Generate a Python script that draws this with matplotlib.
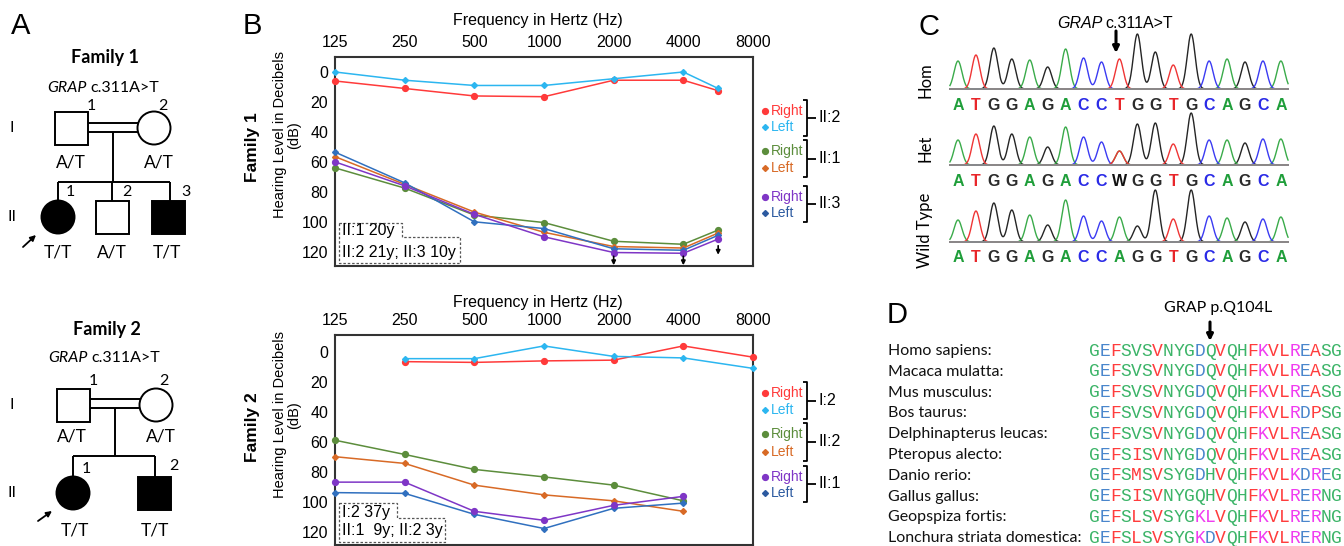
import numpy as np
import matplotlib
matplotlib.use("Agg")
import matplotlib.pyplot as plt
from matplotlib.patches import Rectangle, Circle, Polygon

plt.rcParams["font.family"] = ["Liberation Sans", "DejaVu Sans"]

W_PX, H_PX = 1344, 546

# ---------------------------------------------------------------------------
# B. audiogram data (dB HL)
# ---------------------------------------------------------------------------
FREQ_TICKS = [125, 250, 500, 1000, 2000, 4000, 8000]

F1_FREQS = [125, 250, 500, 1000, 2000, 4000, 6000]
F1_II2_RIGHT = [6, 11, 16, 16.5, 5.5, 5.5, 12.5]
F1_II2_LEFT = [0, 5.5, 9, 9, 4.5, 0, 11]
F1_II1_RIGHT = [64, 77.5, 95.5, 100.5, 113, 115, 105.5]
F1_II1_LEFT = [56.5, 75, 93.5, 107, 116.5, 117.5, 107.5]
F1_II3_RIGHT = [60, 76, 95, 110, 120.5, 121, 111.5]
F1_II3_LEFT = [53.5, 74, 100, 104.5, 118, 119, 109]
F1_NR_FREQS = [2000, 4000, 6000]
F1_NR_LEVELS = [123, 123, 116]

F2_I2_FREQS = [250, 500, 1000, 2000, 4000, 8000]
F2_I2_RIGHT = [6.5, 7, 6, 5.5, -4, 3.5]
F2_I2_LEFT = [4.5, 4.5, -4, 3, 4, 11]
F2_II_FREQS = [125, 250, 500, 1000, 2000, 4000]
F2_II2_RIGHT = [59, 68.5, 78.5, 83.5, 89, 99.5]
F2_II2_LEFT = [70, 74.5, 89, 95.5, 99.5, 106.5]
F2_II1_RIGHT = [87, 87, 106.5, 112.5, 102.5, 96.5]
F2_II1_LEFT = [94, 94.5, 108.5, 118, 104.5, 101]

# ---------------------------------------------------------------------------
# C. chromatograms (peak heights)
# ---------------------------------------------------------------------------
HOM_SEQ = "ATGGAGACCTGGTGCAGCA"
HET_SEQ = "ATGGAGACCWGGTGCAGCA"
WT_SEQ = "ATGGAGACCAGGTGCAGCA"
HOM_HEIGHTS = [28, 34, 41, 30, 29, 22, 40, 31, 27, 30, 55, 37, 24, 55, 28, 30, 27, 28, 28]
HET_HEIGHTS = [25, 31, 39, 31, 28, 18, 38, 28, 23, 14, 41, 42, 21, 52, 25, 25, 22, 26, 26]
WT_HEIGHTS = [22, 31, 39, 32, 27, 17, 42, 26, 21, 25, 16, 52, 23, 52, 26, 24, 20, 23, 25]

# ---------------------------------------------------------------------------
# D. alignment
# ---------------------------------------------------------------------------
SPECIES = ["Homo sapiens:", "Macaca mulatta:", "Mus musculus:", "Bos taurus:",
           "Delphinapterus leucas:", "Pteropus alecto:", "Danio rerio:",
           "Gallus gallus:", "Geopspiza fortis:", "Lonchura striata domestica:"]
SEQUENCES = ["GEFSVSVNYGDQVQHFKVLREASG", "GEFSVSVNYGDQVQHFKVLREASG",
             "GEFSVSVNYGDQVQHFKVLREASG", "GEFSVSVNYGDQVQHFKVLRDPSG",
             "GEFSVSVNYGDQVQHFKVLREASG", "GEFSISVNYGDQVQHFKVLREASG",
             "GEFSMSVSYGDHVQHFKVLKDREG", "GEFSISVNYGQHVQHFKVLRERNG",
             "GEFSLSVSYGKLVQHFKVLRERNG", "GEFSLSVSYGKDVQHFKVLRERNG"]
SEQ_COLOURS = ["gbrgggrgggbgrggrmrrmbrgg", "gbrgggrgggbgrggrmrrmbrgg",
               "gbrgggrgggbgrggrmrrmbrgg", "gbrgggrgggbgrggrmrrmbrgg",
               "gbrgggrgggbgrggrmrrmbrgg", "gbrgrgrgggbgrggrmrrmbrgg",
               "gbrgrgrgggbgrggrmrrmbmbg", "gbrgrgrgggggrggrmrrmbmgg",
               "gbrgrgrgggmmrggrmrrmbmgg", "gbrgrgrgggmbrggrmrrmbmgg"]

RED = "#ff3a3a"
SKY = "#2cb6f0"
GREEN = "#5c8d3c"
ORANGE = "#d86a26"
PURPLE = "#7f36c6"
NAVY = "#3070bf"
FRAME = "#333333"

fig = plt.figure(figsize=(W_PX / 100, H_PX / 100), dpi=100)


def px_axes(x0, y0, x1, y1):
    return fig.add_axes([x0 / W_PX, 1 - y1 / H_PX, (x1 - x0) / W_PX, (y1 - y0) / H_PX])


def freq_to_pos(f):
    return np.interp(f, FREQ_TICKS, np.arange(len(FREQ_TICKS)))


def pos_to_freq(p):
    return np.interp(p, np.arange(len(FREQ_TICKS)), FREQ_TICKS)


def audiogram(ax, series, ylim):
    ax.set_xscale("function", functions=(freq_to_pos, pos_to_freq))
    ax.set_xlim(125, 8000)
    ax.set_ylim(*ylim)
    for freqs, vals, color, marker in series:
        ms = 4.2 if marker == "o" else 3.0
        ax.plot(freqs, vals, color=color, lw=1.1, marker=marker, ms=ms,
                clip_on=False, zorder=3)
    ax.set_xticks(FREQ_TICKS)
    ax.set_xticklabels([str(f) for f in FREQ_TICKS])
    ax.xaxis.set_minor_locator(matplotlib.ticker.NullLocator())
    ax.xaxis.tick_top()
    ax.set_yticks(range(0, 121, 20))
    ax.tick_params(length=0, labelsize=11.5, pad=5)
    for sp in ax.spines.values():
        sp.set_linewidth(1.5)
        sp.set_color(FRAME)


ax_f1 = px_axes(335, 57, 753, 266)
audiogram(ax_f1, [
    (F1_FREQS, F1_II2_RIGHT, RED, "o"), (F1_FREQS, F1_II2_LEFT, SKY, "D"),
    (F1_FREQS, F1_II1_RIGHT, GREEN, "o"), (F1_FREQS, F1_II1_LEFT, ORANGE, "D"),
    (F1_FREQS, F1_II3_LEFT, NAVY, "D"), (F1_FREQS, F1_II3_RIGHT, PURPLE, "o"),
], (129.5, -10))
for f, lv in zip(F1_NR_FREQS, F1_NR_LEVELS):
    ax_f1.annotate("", xy=(f, lv + 6), xytext=(f, lv),
                   arrowprops=dict(arrowstyle="-|>", color="black", lw=1.2,
                                   mutation_scale=6, shrinkA=0, shrinkB=0))

ax_f2 = px_axes(335, 335, 753, 545)
audiogram(ax_f2, [
    (F2_I2_FREQS, F2_I2_RIGHT, RED, "o"), (F2_I2_FREQS, F2_I2_LEFT, SKY, "D"),
    (F2_II_FREQS, F2_II2_RIGHT, GREEN, "o"), (F2_II_FREQS, F2_II2_LEFT, ORANGE, "D"),
    (F2_II_FREQS, F2_II1_LEFT, NAVY, "D"), (F2_II_FREQS, F2_II1_RIGHT, PURPLE, "o"),
], (129, -11.3))

# ---------------------------------------------------------------------------
# C. chromatogram rows
# ---------------------------------------------------------------------------
CHANNEL = {"A": "#3aab4a", "C": "#3b3bf2", "G": "#252525", "T": "#ef3535"}
LETTER = {"A": "#1f9e3a", "C": "#2a2ae6", "G": "#2b2b2b", "T": "#e8262a", "W": "#111111"}
IUPAC = {"W": "AT"}
SIGMA = 0.22


def chromatogram(baseline_px, seq, heights):
    ax = px_axes(946, baseline_px - 56, 1292, baseline_px + 2)
    ax.set_xlim(-0.669, 18.62)
    ax.set_ylim(-2, 56)
    ax.axis("off")
    x = np.linspace(-0.45, 18.4, 900)
    for ch in "GACT":
        y = np.zeros_like(x)
        for i, (b, h) in enumerate(zip(seq, heights)):
            if ch in IUPAC.get(b, b):
                y += h * np.exp(-0.5 * ((x - i) / SIGMA) ** 2)
        ax.plot(x, y, color=CHANNEL[ch], lw=1.0, clip_on=False)
    ax.plot([x[0], x[-1]], [0, 0], color="#8a8a8a", lw=1.4, clip_on=False)
    for i, b in enumerate(seq):
        ax.text(i, -16, b, ha="center", va="center", fontsize=11.5,
                fontweight="bold", color=LETTER[b], clip_on=False)


chromatogram(89, HOM_SEQ, HOM_HEIGHTS)
chromatogram(165, HET_SEQ, HET_HEIGHTS)
chromatogram(242, WT_SEQ, WT_HEIGHTS)

# ---------------------------------------------------------------------------
# D. alignment
# ---------------------------------------------------------------------------
AA = {"g": "#3cb468", "b": "#4a86cc", "r": "#ff3c3c", "m": "#f03cf0"}
ax_d = px_axes(1089, 340.6, 1342, 548.6)
ax_d.set_xlim(0, 24)
ax_d.set_ylim(9.5, -0.5)
ax_d.axis("off")
for row, (name, seq, cols) in enumerate(zip(SPECIES, SEQUENCES, SEQ_COLOURS)):
    ax_d.text(-19.07, row, name, ha="left", va="center", fontsize=11.5,
              family="Lato", color="#111111", clip_on=False)
    for i, (aa, c) in enumerate(zip(seq, cols)):
        ax_d.text(i + 0.5, row, aa, ha="center", va="center", fontsize=13,
                  family="Liberation Mono", color=AA[c], clip_on=False)

# ---------------------------------------------------------------------------
# overlay: pedigrees, labels, legends
# ---------------------------------------------------------------------------
ov = fig.add_axes([0, 0, 1, 1])
ov.set_xlim(0, W_PX)
ov.set_ylim(H_PX, 0)
ov.axis("off")
LW = 1.4


def line(xs, ys, **kw):
    ov.plot(xs, ys, color=kw.pop("color", "black"), lw=kw.pop("lw", LW),
            solid_capstyle="butt", **kw)


def txt(x, y, s, size=11, **kw):
    ov.text(x, y, s, fontsize=size, ha=kw.pop("ha", "center"),
            va=kw.pop("va", "center"), **kw)


def square(x0, y0, filled):
    ov.add_patch(Rectangle((x0, y0), 33, 33, fc="black" if filled else "white",
                           ec="black", lw=LW))


def circle(cx, cy, filled):
    ov.add_patch(Circle((cx, cy), 16.5, fc="black" if filled else "white",
                        ec="black", lw=LW))


def arrow(x0, y0, x1, y1, lw=1.3, scale=8):
    ov.annotate("", xy=(x1, y1), xytext=(x0, y0),
                arrowprops=dict(arrowstyle="-|>", color="black", lw=lw,
                                mutation_scale=scale, shrinkA=0, shrinkB=0))


LATO = dict(family="Lato")

# panel letters
for lab, x, y in [("A", 11, 26), ("B", 243, 26), ("C", 918, 27), ("D", 887, 315)]:
    txt(x, y, lab, 21, ha="left")

# Family 1 pedigree
txt(105, 57, "Family 1", 13, fontweight="bold", **LATO)
txt(87, 88, "GRAP", 11.5, ha="right", style="italic", **LATO)
txt(90, 88, "c.311A>T", 11.5, ha="left", **LATO)
line([88, 138], [123, 123])
line([88, 138], [132, 132])
line([113, 113], [132, 182])
line([58, 170], [182, 182])
for xd in (58, 112, 170):
    line([xd, xd], [182, 201])
square(55, 112, False)
circle(154, 128, False)
circle(58, 217, True)
square(96, 201, False)
square(152, 201, True)
for x, y, s in [(91, 106, "1"), (163, 106, "2"), (70, 192, "1"), (127, 192, "2"), (186, 192, "3")]:
    txt(x, y, s, 11.5, **LATO)
txt(12, 128, "I", 11.5, **LATO)
txt(12, 217, "II", 11.5, **LATO)
for x, y, s in [(71, 163, "A/T"), (159, 163, "A/T"), (58, 253, "T/T"), (112, 253, "A/T"), (167, 253, "T/T")]:
    txt(x, y, s, 12.5, **LATO)
arrow(23, 247, 36, 235)

# Family 2 pedigree
txt(107, 330, "Family 2", 13, fontweight="bold", **LATO)
txt(88, 358, "GRAP", 11.5, ha="right", style="italic", **LATO)
txt(91, 358, "c.311A>T", 11.5, ha="left", **LATO)
line([90, 140], [399, 399])
line([90, 140], [408, 408])
line([115, 115], [408, 456])
line([73, 155], [456, 456])
for xd in (73, 155):
    line([xd, xd], [456, 477])
square(57, 389, False)
circle(156, 405, False)
circle(73, 493, True)
square(138, 477, True)
for x, y, s in [(93, 381, "1"), (164, 381, "2"), (86, 469, "1"), (174, 466, "2")]:
    txt(x, y, s, 11.5, **LATO)
txt(12, 405, "I", 11.5, **LATO)
txt(12, 493, "II", 11.5, **LATO)
for x, y, s in [(72, 436, "A/T"), (161, 436, "A/T"), (75, 530, "T/T"), (155, 530, "T/T")]:
    txt(x, y, s, 12.5, **LATO)
arrow(38, 521, 52, 511)

# panel B texts
for yc, fam, ylab_c in [(21, "Family 1", 135), (303, "Family 2", 415)]:
    txt(538, yc, "Frequency in Hertz (Hz)", 11.5)
    txt(252, ylab_c + 12, fam, 12.5, fontweight="bold", rotation=90)
    txt(287, ylab_c, "Hearing Level in Decibels\n(dB)", 10.5, rotation=90, linespacing=1.05)

BOX = dict(fill=False, ec="#555555", lw=0.9, ls=(0, (2, 1.5)))
ov.add_patch(Polygon([(339, 223), (402, 223), (402, 237), (460, 237), (460, 263), (339, 263)], **BOX))
txt(342, 231, "II:1 20y", 11.5, ha="left")
txt(342, 252, "II:2 21y; II:3 10y", 11.5, ha="left")
ov.add_patch(Polygon([(339, 503), (397, 503), (397, 518), (445, 518), (445, 542), (339, 542)], **BOX))
txt(342, 512, "I:2 37y", 11.5, ha="left")
txt(342, 531, "II:1  9y; II:2 3y", 11.5, ha="left")


def legend_group(y_right, y_left, c_right, c_left, label):
    for yy, col, mk, name in [(y_right, c_right, "o", "Right"), (y_left, c_left, "D", "Left")]:
        ov.plot([765], [yy], marker=mk, ms=4.2 if mk == "o" else 3.0, color=col)
        txt(771, yy, name, 10, ha="left", color=col)
    top, bot = y_right - 11, y_left + 9
    line([803, 807, 807, 803], [top, top, bot, bot], lw=1.3)
    mid = (top + bot) / 2
    line([807, 816], [mid, mid], lw=1.3)
    txt(818, mid, label, 11.5, ha="left")


legend_group(111, 127, RED, SKY, "II:2")
legend_group(151, 168, GREEN, ORANGE, "II:1")
legend_group(197, 213, PURPLE, "#2c5aa0", "II:3")
legend_group(393, 410, RED, SKY, "I:2")
legend_group(434, 452, GREEN, ORANGE, "II:2")
legend_group(477, 493, PURPLE, "#2c5aa0", "II:1")

# panel C texts
txt(1102, 23, "GRAP", 11.5, ha="right", style="italic")
txt(1105, 23, "c.311A>T", 11.5, ha="left")
arrow(1116, 31, 1116, 53, lw=2.2, scale=9)
for y, s in [(80, "Hom"), (148, "Het"), (230, "Wild Type")]:
    txt(925, y, s, 12, rotation=90, **LATO)

# panel D texts
txt(1218, 308, "GRAP p.Q104L", 11.5, **LATO)
arrow(1210, 322, 1210, 341, lw=2.2, scale=9)

fig.savefig("out.png", dpi=100)
